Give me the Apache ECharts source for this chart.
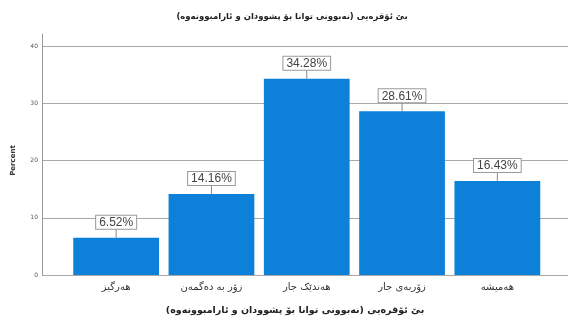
<!DOCTYPE html>
<html>
<head>
<meta charset="utf-8">
<script src="https://cdn.jsdelivr.net/npm/echarts@6/dist/echarts.min.js"></script>
<style>
  html, body { margin: 0; padding: 0; background: #fff; }
  #chart { width: 568px; height: 324px; }
</style>
</head>
<body>
<div id="chart"></div>
<script>
const chartTitle = 'بێ ئۆقرەیی (نەبوونی توانا بۆ پشوودان و ئارامبوونەوە)';
const categories = ['هەرگیز', 'زۆر بە دەگمەن', 'هەندێک جار', 'زۆربەی جار', 'هەمیشە'];
const percents = [6.52, 14.16, 34.28, 28.61, 16.43];
const yTicks = [0, 10, 20, 30, 40];

const FONT = '"DejaVu Sans", "Liberation Sans", sans-serif';
const BAR_COLOR = '#0d80da';
const plotTop = 46, plotBottom = 49;

const chart = echarts.init(document.getElementById('chart'));

chart.setOption({
  animation: false,
  backgroundColor: '#ffffff',
  graphic: [
    {
      type: 'text', x: 292, y: 17,
      style: {
        text: chartTitle, align: 'center', verticalAlign: 'middle',
        font: 'bold 8.5px ' + FONT, fill: '#222'
      }
    },
    {
      type: 'text', x: 295, y: 311,
      style: {
        text: chartTitle, align: 'center', verticalAlign: 'middle',
        font: 'bold 9.5px ' + FONT, fill: '#222'
      }
    }
  ],
  grid: [
    // vertical axis line (runs slightly above the top tick)
    { left: 42, right: 0, top: 34, bottom: plotBottom },
    // tick labels and gridlines
    { left: 42, right: 0, top: plotTop, bottom: plotBottom },
    // bars
    { left: 68.5, right: 23, top: plotTop, bottom: plotBottom }
  ],
  xAxis: [
    { gridIndex: 0, type: 'value', show: false },
    { gridIndex: 1, type: 'value', show: false },
    {
      gridIndex: 2,
      type: 'category',
      data: categories,
      axisLine: { show: false },
      axisTick: { show: false },
      axisLabel: { margin: 7, fontFamily: FONT, fontSize: 10, color: '#333' }
    }
  ],
  yAxis: [
    {
      gridIndex: 0, type: 'value', min: 0, max: 1,
      axisLine: { show: true, lineStyle: { color: '#9a9a9a', width: 1 } },
      axisTick: { show: false }, axisLabel: { show: false }, splitLine: { show: false }
    },
    {
      gridIndex: 1, type: 'value',
      min: yTicks[0], max: yTicks[yTicks.length - 1], interval: 10,
      axisLine: { show: false },
      axisTick: { show: false },
      axisLabel: { margin: 4, fontFamily: FONT, fontSize: 6, color: '#555' },
      splitLine: { show: true, lineStyle: { color: '#a8a8a8', width: 1 } },
      name: 'Percent',
      nameLocation: 'middle',
      nameRotate: 90,
      nameGap: 25,
      nameTextStyle: { fontFamily: FONT, fontSize: 7, fontWeight: 'bold', color: '#333' }
    },
    {
      gridIndex: 2, type: 'value',
      min: yTicks[0], max: yTicks[yTicks.length - 1],
      show: false
    }
  ],
  series: [
    {
      type: 'bar',
      xAxisIndex: 2,
      yAxisIndex: 2,
      data: percents,
      barCategoryGap: '10%',
      itemStyle: { color: BAR_COLOR },
      z: 3,
      label: {
        show: true,
        position: 'top',
        distance: 9,
        formatter: (p) => p.value.toFixed(2) + '%',
        fontFamily: '"Liberation Sans", Arial, sans-serif',
        fontSize: 12,
        color: '#444',
        backgroundColor: '#ffffff',
        borderColor: '#9a9a9a',
        borderWidth: 1,
        padding: [1, 3, 0, 3]
      }
    },
    {
      // short leader from each bar top to its value box
      type: 'custom',
      xAxisIndex: 2,
      yAxisIndex: 2,
      data: percents.map((v, i) => [i, v]),
      z: 2,
      silent: true,
      renderItem: function (params, api) {
        const p = api.coord([api.value(0), api.value(1)]);
        return {
          type: 'line',
          shape: { x1: p[0], y1: p[1], x2: p[0], y2: p[1] - 9 },
          style: { stroke: '#888', lineWidth: 1 }
        };
      }
    }
  ]
});
</script>
</body>
</html>
